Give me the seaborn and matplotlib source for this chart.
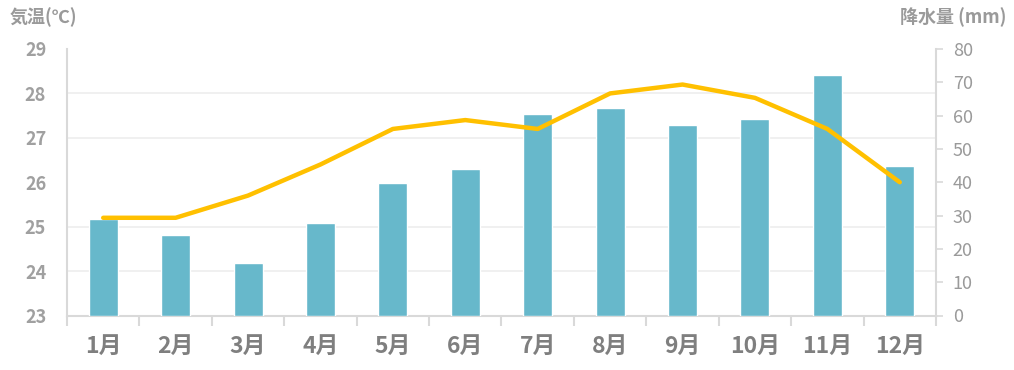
import numpy as np
import matplotlib
matplotlib.use("Agg")
import matplotlib.pyplot as plt
import seaborn as sns

months = ["1月", "2月", "3月", "4月", "5月", "6月", "7月", "8月", "9月", "10月", "11月", "12月"]
precip = [29.0, 24.1, 15.7, 27.7, 39.7, 43.9, 60.4, 62.3, 57.1, 58.9, 72.2, 44.8]
temp = [25.2, 25.2, 25.7, 26.4, 27.2, 27.4, 27.2, 28.0, 28.2, 27.9, 27.2, 26.0]
temp_ticks = [23, 24, 25, 26, 27, 28, 29]
precip_ticks = [0, 10, 20, 30, 40, 50, 60, 70, 80]

sns.set_theme(style="white")
plt.rcParams['font.family'] = ['Noto Sans CJK JP', 'DejaVu Sans']

BAR = "#67B8CB"
LINE = "#FFC000"
SPINE = "#D9D9D9"
GRID = "#EFEFEF"
TXT = "#9A9A9A"
XTXT = "#7F7F7F"

fig = plt.figure(figsize=(10.14, 3.70), dpi=100)
ax = fig.add_axes([67/1014, 1 - 315.5/370, (936 - 67)/1014, (315.5 - 49)/370])

x_pos = np.arange(len(months))
sns.barplot(x=months, y=precip, color=BAR, width=0.4, saturation=1, ax=ax, zorder=3)
ax.set_xlim(-0.5, len(months) - 0.5)
ax.set_ylim(0, 80)
ax.set_xlabel("")
ax.set_ylabel("")

ax2 = ax.twinx()
sns.lineplot(x=x_pos, y=temp, color=LINE, linewidth=3.2, ax=ax2, zorder=5)
for l in ax2.lines:
    l.set_solid_capstyle("round")
    l.set_solid_joinstyle("round")
ax2.set_ylim(23, 29)
ax2.set_xlim(-0.5, len(months) - 0.5)
ax2.set_ylabel("")
for s in ax2.spines.values():
    s.set_visible(False)

# gridlines follow the temperature scale (behind bars)
grid_pos = [(t - 23) / 6 * 80 for t in temp_ticks]
ax.set_yticks(grid_pos, minor=True)
ax.yaxis.grid(True, which="minor", color=GRID, linewidth=1.3, zorder=0)
ax.yaxis.grid(False, which="major")
ax.set_axisbelow(True)

# precipitation axis on the right
ax.yaxis.tick_right()
ax.set_yticks(precip_ticks)
ax.set_yticklabels([str(v) for v in precip_ticks])
ax.tick_params(axis="y", which="major", direction="out", length=5, width=1.2,
               color=SPINE, labelcolor=TXT, labelsize=13, pad=7,
               right=True, left=False, labelright=True, labelleft=False)
ax.tick_params(axis="y", which="minor", length=0, left=False, right=False)

# temperature axis on the left
ax2.yaxis.tick_left()
ax2.set_yticks(temp_ticks)
ax2.set_yticklabels([str(v) for v in temp_ticks], fontweight="bold")
ax2.tick_params(axis="y", length=0, labelcolor="#A0A0A0", labelsize=13, pad=15,
                left=True, right=False, labelleft=True, labelright=False)

ax.set_xticks(x_pos)
ax.set_xticklabels(months, fontsize=16.5, fontweight="bold", color=XTXT)
ax.set_xticks(np.arange(-0.5, len(months)), minor=True)
ax.tick_params(axis="x", which="major", length=0, pad=14)
ax.tick_params(axis="x", which="minor", length=7, width=1.5, color=SPINE, bottom=True)

for s in ["left", "right", "bottom"]:
    ax.spines[s].set_color(SPINE)
    ax.spines[s].set_linewidth(1.5)
ax.spines["top"].set_visible(False)

fig.text(10/1014, 1 - 17/370, "気温(℃)", ha="left", va="center", fontsize=13,
         fontweight="bold", color=TXT)
fig.text(1006/1014, 1 - 17/370, "降水量 (mm)", ha="right", va="center", fontsize=13,
         fontweight="bold", color=TXT)

fig.savefig("out.png", dpi=100)
